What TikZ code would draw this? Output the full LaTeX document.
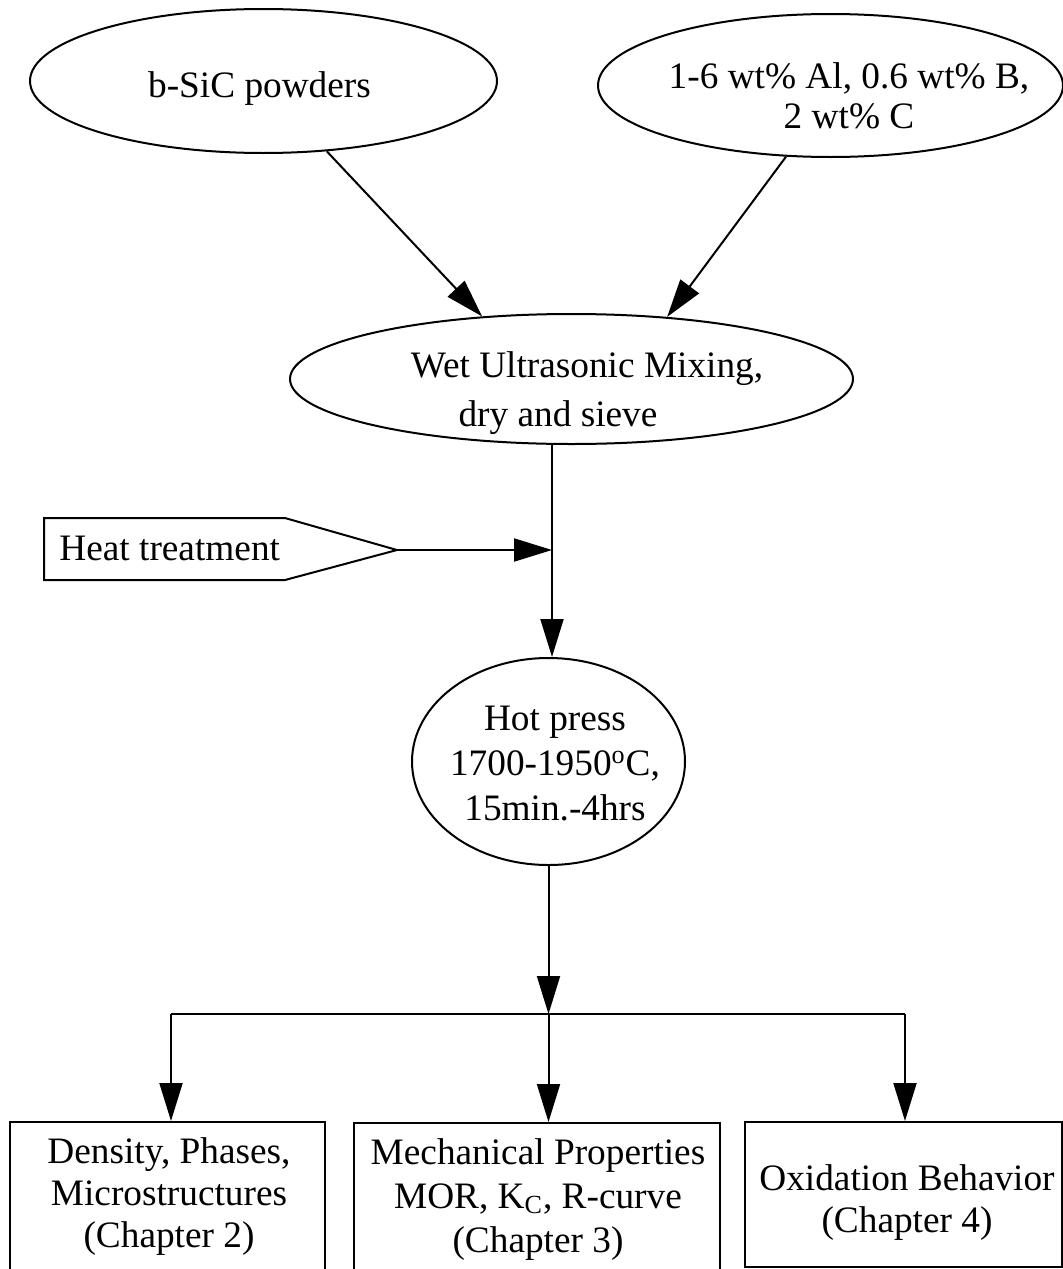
\documentclass[tikz,border=0pt]{standalone}
\usepackage{fontspec}
\setmainfont{Liberation Serif}
\usetikzlibrary{arrows.meta,shapes.geometric}
\begin{document}
\begin{tikzpicture}[x=0.5pt,y=-0.5pt,
  line/.style={line width=1pt},
  arr/.style={line width=1pt,-{Triangle[length=19pt,width=11.5pt]}},
  ell/.style={draw,line width=1pt,ellipse,inner sep=0pt},
  boxnode/.style={draw,line width=1pt,rectangle,inner sep=0pt},
  txt/.style={inner sep=0pt,align=center},
  fs/.style={font=\fontsize{18.65}{#1}\selectfont},
]
\useasboundingbox (0,0) rectangle (1063,1269);
% shapes
\node[ell,minimum width=233.5pt,minimum height=72pt] (sic) at (263.5,81) {};
\node[ell,minimum width=232.5pt,minimum height=71.5pt] (add) at (830.5,85.5) {};
\node[ell,minimum width=281.5pt,minimum height=65pt] (wet) at (571.5,379) {};
\node[ell,minimum width=136.5pt,minimum height=103.5pt] (hot) at (548.5,761.5) {};
\node[boxnode,minimum width=157.5pt,minimum height=75pt] (b1) at (167.5,1197) {};
\node[boxnode,minimum width=183pt,minimum height=74.5pt] (b2) at (537,1197.5) {};
\node[boxnode,minimum width=158.5pt,minimum height=72.5pt] (b3) at (903.5,1194.5) {};
\draw[line] (44,518) -- (285,518) -- (397,550) coordinate (heattip) -- (285,580) -- (44,580) -- cycle;
% texts
\node[txt,fs=19,anchor=base] (sict) at (259.5,97) {b-SiC powders};
\node[txt,fs=20] (addt) at (849,95.5) {1-6 wt\% Al, 0.6 wt\% B,\\2 wt\% C};
\node[txt,fs=24.5] (wett) at (558,393.5) {\hspace*{29pt}Wet Ultrasonic Mixing,\\dry and sieve};
\node[txt,fs=22.5] (hott) at (555,764) {Hot press\\1700-1950\textsuperscript{o}C,\\15min.-4hrs};
\node[txt,fs=19,anchor=base west] (heat) at (59,560) {Heat treatment};
\node[txt,fs=21] (b1t) at (169,1196.8) {Density, Phases,\\Microstructures\\(Chapter 2)};
\node[txt,fs=22] (b2t) at (538,1199.3) {Mechanical Properties\\MOR, K\textsubscript{C}, R-curve\\(Chapter 3)};
\node[txt,fs=21] (b3t) at (907,1202.3) {Oxidation Behavior\\(Chapter 4)};
% connectors
\coordinate (j) at (552,550);
\coordinate (bl) at (171,1014);
\coordinate (br) at (905,1014);
\coordinate (bm) at (hot.south |- bl);
\draw[arr] (sic.-48) -- (wet.145.6);
\draw[arr] (add.-122) -- (wet.33.3);
\draw[arr] (j |- wet.south) -- (j |- hot.north);
\draw[arr] (heattip) -- (j);
\draw[arr] (hot.south) -- (bm);
\draw[line] (bl) -- (br);
\draw[arr] (bl) -- (bl |- b1.north);
\draw[arr] (bm) -- (bm |- b2.north);
\draw[arr] (br) -- (br |- b3.north);
\end{tikzpicture}
\end{document}
